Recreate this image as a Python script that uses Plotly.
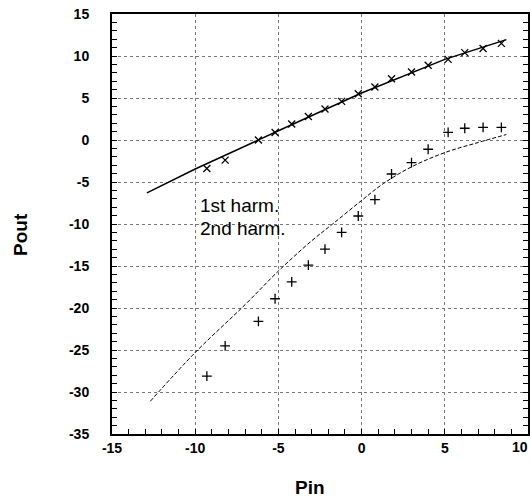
import plotly.graph_objects as go

# Measured points (shared Pin positions)
pin_pts = [-9.3, -8.2, -6.2, -5.2, -4.2, -3.2, -2.2, -1.2, -0.2, 0.8, 1.8, 3.0, 4.0, 5.2, 6.2, 7.3, 8.4]
first_meas = [-3.4, -2.4, 0.0, 0.9, 1.9, 2.8, 3.7, 4.6, 5.5, 6.3, 7.3, 8.1, 8.9, 9.6, 10.4, 10.9, 11.5]
second_meas = [-28.1, -24.5, -21.6, -18.9, -16.9, -14.9, -13.0, -11.0, -9.05, -7.1, -4.05, -2.7, -1.1, 0.9, 1.4, 1.5, 1.5]

# Simulated curves
first_sim_x = [-12.9, -10.0, -5.0, 0.0, 5.0, 8.7]
first_sim_y = [-6.3, -3.45, 1.1, 5.6, 9.6, 11.95]
second_sim_x = [-12.7, -10.0, -7.0, -5.0, -3.0, -1.74, 0.0, 1.3, 3.0, 5.0, 7.0, 8.7]
second_sim_y = [-31.1, -25.3, -19.6, -15.6, -12.0, -10.0, -7.2, -5.2, -3.2, -1.5, -0.3, 0.65]

x_ticks = [-15, -10, -5, 0, 5, 10]
y_ticks = [15, 10, 5, 0, -5, -10, -15, -20, -25, -30, -35]

fig = go.Figure()
fig.add_trace(go.Scatter(x=first_sim_x, y=first_sim_y, mode="lines",
                         line=dict(color="black", width=1.5), showlegend=False))
fig.add_trace(go.Scatter(x=second_sim_x, y=second_sim_y, mode="lines", line_shape="spline",
                         line=dict(color="black", width=1, dash="4px,2px"), showlegend=False))
fig.add_trace(go.Scatter(x=pin_pts, y=first_meas, mode="markers",
                         marker=dict(symbol="x-thin", size=7, line=dict(color="black", width=1.3)),
                         showlegend=False))
fig.add_trace(go.Scatter(x=pin_pts, y=second_meas, mode="markers",
                         marker=dict(symbol="cross-thin", size=7, line=dict(color="black", width=1.3)),
                         showlegend=False))

tickfont = dict(family="Liberation Sans, Arial, sans-serif", size=14, color="black", weight="bold")

# last x tick label drawn separately (right-aligned) so it stays inside the page
x_text = [str(v) for v in x_ticks[:-1]] + [""]

fig.update_xaxes(range=[-15, 10], tickvals=x_ticks, ticktext=x_text,
                 ticks="inside", ticklen=5, tickcolor="black",
                 automargin=False,
                 minor=dict(dtick=1, ticks="inside", ticklen=5, tickcolor="black", showgrid=False),
                 showline=True, linecolor="black", linewidth=2, mirror=True,
                 showgrid=True, gridcolor="#777", griddash="dot", gridwidth=1,
                 zeroline=False, tickfont=tickfont)
fig.update_yaxes(range=[-35, 15], tickvals=y_ticks, ticktext=[str(v) for v in y_ticks],
                 ticks="inside", ticklen=5, tickcolor="black", automargin=False,
                 minor=dict(dtick=1, ticks="inside", ticklen=5, tickcolor="black", showgrid=False),
                 showline=True, linecolor="black", linewidth=2, mirror="ticks",
                 showgrid=True, gridcolor="#777", griddash="dot", gridwidth=1,
                 zeroline=False, tickfont=tickfont, ticklabelstandoff=18)

fig.add_annotation(xref="paper", yref="paper", x=(530-112)/416, y=(434-447)/420,
                   text=str(x_ticks[-1]), showarrow=False, xanchor="right", yanchor="middle",
                   font=tickfont)

annfont = dict(family="Liberation Sans, Arial, sans-serif", size=19, color="black")
fig.add_annotation(xref="paper", yref="paper", x=(198-112)/416, y=(434-205)/420,
                   text="1st harm.", showarrow=False, xanchor="left", yanchor="middle", font=annfont)
fig.add_annotation(xref="paper", yref="paper", x=(198-112)/416, y=(434-228)/420,
                   text="2nd harm.", showarrow=False, xanchor="left", yanchor="middle", font=annfont)

titlefont = dict(family="Liberation Sans, Arial, sans-serif", size=19, color="black", weight="bold")
fig.add_annotation(xref="paper", yref="paper", x=(310-112)/416, y=(434-487)/420,
                   text="Pin", showarrow=False, xanchor="center", yanchor="middle", font=titlefont)
fig.add_annotation(xref="paper", yref="paper", x=(20-112)/416, y=(434-235)/420,
                   text="Pout", showarrow=False, textangle=-90, xanchor="center", yanchor="middle",
                   font=titlefont)

fig.update_layout(width=531, height=502, margin=dict(l=112, r=3, t=14, b=68),
                  plot_bgcolor="white", paper_bgcolor="white")

fig.write_html("out.html")
